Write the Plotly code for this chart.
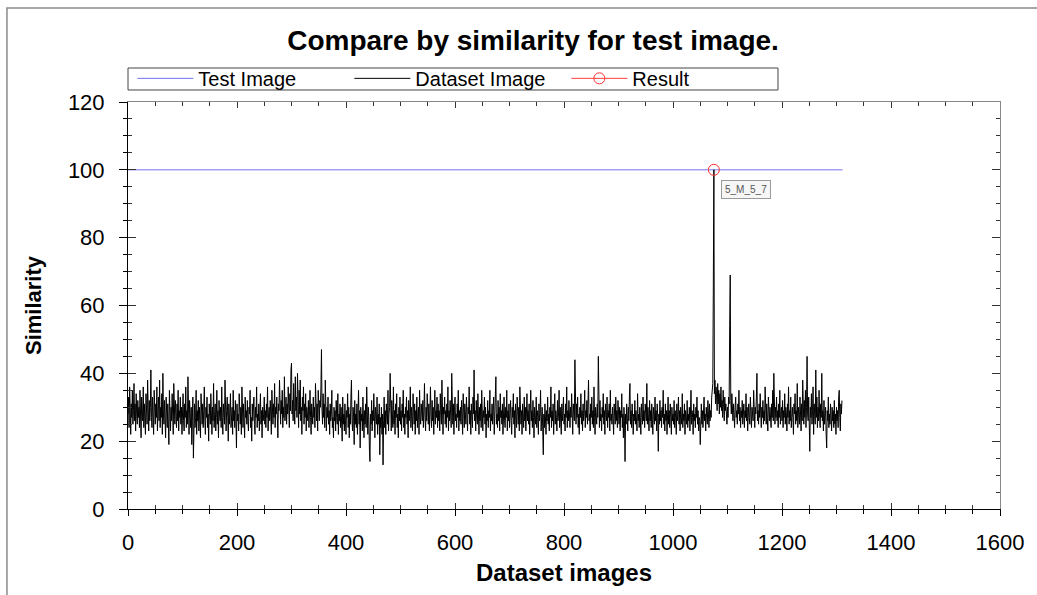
import plotly.graph_objects as go

# ---- data ----
dataset_similarity = [
28,33,24,36,30,22,31,27,35,25, 29,37,26,31,23,34,28,25,32,27, 30,24,35,28,21,33,29,26,36,24, 31,27,22,34,29,25,38,28,23,32, 26,30,41,27,24,33,29,22,35,28,
25,31,27,36,23,29,33,26,38,24, 30,27,34,22,40,28,25,32,26,21, 33,29,24,31,27,19,35,28,23,30, 26,34,29,22,37,27,25,32,28,24, 31,26,35,23,29,27,33,25,30,22,
28,34,26,23,31,27,36,24,29,25, 39,27,22,32,28,24,30,19,26,33, 15,28,31,24,27,35,22,29,26,32, 23,30,27,21,34,28,25,31,24,29, 36,26,22,30,27,33,24,28,20,31,
27,25,34,29,22,30,26,37,24,28, 31,23,27,35,25,29,21,32,28,26, 30,24,36,27,22,31,28,25,38,26, 23,29,33,27,20,31,25,28,34,24, 27,30,22,35,26,29,24,32,27,18,
31,26,28,23,34,27,25,30,22,36, 28,24,31,26,21,33,27,29,25,32, 26,23,30,28,35,24,27,20,31,26, 29,33,25,22,30,27,36,24,28,26, 31,23,27,34,25,29,21,30,26,28,
33,25,29,24,31,27,36,23,28,30, 26,32,28,22,35,29,25,31,27,37, 24,30,28,33,26,21,31,29,38,27, 25,32,28,35,24,30,27,39,26,29, 33,25,31,28,36,27,24,34,29,41,
43,28,32,26,37,30,25,39,29,33, 27,40,31,24,35,28,38,26,30,22, 33,29,36,25,31,27,34,23,30,28, 26,32,24,29,35,27,22,31,28,25, 33,27,30,24,37,29,26,31,23,35,
28,26,32,30,36,47,29,25,34,27, 31,24,38,28,23,30,27,33,25,29, 22,31,26,28,35,24,27,21,30,26, 29,23,32,27,25,34,22,28,26,31, 24,30,27,20,33,25,28,23,31,26,
22,29,27,34,24,30,21,28,25,33, 38,26,23,30,27,19,32,25,28,24, 31,22,27,35,25,29,18,30,26,28, 23,33,27,21,29,25,31,24,36,26, 22,30,27,17,14,28,25,32,23,29,
26,34,24,21,30,27,25,33,22,28, 25,31,16,27,24,30,22,28,13,26, 33,24,29,22,31,27,25,35,23,28, 30,40,26,23,32,27,24,36,25,29, 22,31,27,34,24,28,21,30,26,33,
25,29,23,31,27,35,24,28,22,30, 27,33,25,29,21,32,26,28,36,24, 30,27,23,34,28,25,31,22,29,26, 33,24,28,30,22,35,27,25,31,28, 26,32,24,29,37,27,23,30,26,34,
28,25,31,23,29,36,27,24,32,26, 30,22,28,35,25,29,27,33,24,31, 26,29,23,34,28,25,38,27,22,30, 28,33,25,29,24,31,27,36,23,29, 26,32,28,24,40,27,25,31,22,29,
33,26,28,24,31,27,35,23,29,26, 30,25,32,28,22,34,27,24,31,29, 25,33,27,23,30,28,36,25,29,22, 31,27,24,33,28,41,26,29,23,32, 27,25,34,28,22,30,26,31,24,35,
28,23,29,27,33,25,30,21,28,26, 32,24,29,27,35,23,28,26,31,25, 29,33,22,30,27,39,25,28,24,32, 26,30,23,34,27,29,25,31,22,28, 33,26,24,30,27,35,23,29,26,31,
24,28,32,26,22,30,27,34,25,29, 21,31,27,24,33,28,25,30,23,36, 27,25,29,22,31,28,24,33,26,30, 23,28,34,26,29,25,31,22,27,35, 26,29,24,32,27,21,30,28,25,33,
24,29,27,22,31,26,28,35,23,27, 30,25,16,28,24,31,27,22,29,26, 33,25,28,23,30,27,36,24,29,26, 31,22,28,34,25,29,27,23,32,26, 28,35,24,30,27,22,31,26,29,33,
25,28,23,31,27,36,24,29,26,32, 28,24,30,27,34,25,22,31,28,26, 44,29,25,31,27,33,24,28,22,30, 27,34,25,29,23,31,26,28,35,24, 29,27,32,25,30,38,26,28,23,31,
27,33,25,29,24,36,27,22,30,28, 25,31,27,45,29,24,32,26,28,23, 30,27,34,25,29,22,31,28,26,33, 24,29,27,31,23,35,26,28,25,30, 27,22,31,28,25,33,26,29,24,32,
28,25,30,23,29,27,34,24,28,21, 30,26,14,28,25,31,27,23,30,26, 33,37,25,29,24,31,27,22,28,26, 32,25,29,27,23,34,26,28,24,30, 27,22,31,28,25,33,26,29,24,31,
28,26,37,25,30,27,23,32,26,29, 24,31,27,22,30,28,25,33,26,29, 23,31,27,17,28,25,32,26,29,24, 30,27,35,25,28,23,31,26,29,22, 27,33,25,29,24,31,27,22,30,26,
28,25,32,24,29,27,22,31,26,28, 33,25,29,23,30,27,25,34,24,28, 26,31,22,29,27,25,32,24,28,26, 30,23,28,35,25,29,27,22,31,26, 28,24,30,27,33,25,29,23,27,26,
19,28,31,25,29,24,27,33,26,28, 23,30,27,25,32,28,24,31,26,29, 27,33,35,37,66,100,34,38,31,36, 33,29,37,31,35,28,34,30,36,29, 32,27,35,30,26,33,29,31,28,25,
30,27,33,31,54,69,32,28,34,29, 26,31,28,24,30,33,27,29,25,31, 28,35,26,30,24,29,27,32,25,28, 31,24,29,27,34,26,30,23,28,31, 27,25,33,29,24,30,28,26,35,27,
24,30,28,33,40,26,29,25,31,27, 34,28,24,30,27,32,25,29,26,36, 28,25,31,27,23,33,29,26,30,28, 24,31,27,35,26,40,28,25,30,27, 33,26,29,24,31,27,35,25,28,30,
26,32,24,29,27,34,25,30,28,23, 31,27,36,25,29,26,33,24,28,30, 27,22,31,28,34,25,29,26,37,24, 30,27,25,33,28,23,31,26,38,29, 25,32,27,35,24,30,45,28,26,33,
23,17,30,27,34,25,29,36,22,31, 28,25,41,27,33,24,30,26,35,28, 24,31,27,40,26,29,23,32,25,28, 30,22,18,29,26,33,24,28,25,31, 27,23,30,26,29,24,32,25,28,22,
30,26,29,24,33,35,27,23,31,28, 32,
]
dataset_index = list(range(len(dataset_similarity)))

test_image_index = [0, 1311]
test_image_similarity = [100, 100]

result_index = [1075]
result_similarity = [100]
result_label = ["5_M_5_7"]

series_names = ["Test Image", "Dataset Image", "Result"]

x_range = [0, 1600]
y_range = [0, 120]

FONT = "Liberation Sans, Arial, sans-serif"

fig = go.Figure()
fig.add_trace(go.Scatter(x=test_image_index, y=test_image_similarity, mode="lines",
                         name=series_names[0], line=dict(color="#7373f2", width=1)))
fig.add_trace(go.Scatter(x=dataset_index, y=dataset_similarity, mode="lines",
                         name=series_names[1], line=dict(color="#000000", width=1)))
fig.add_trace(go.Scatter(x=result_index, y=result_similarity, mode="lines+markers",
                         name=series_names[2], line=dict(color="#ff4040", width=1),
                         marker=dict(symbol="circle-open", size=11, color="#ff3030",
                                     line=dict(width=1, color="#ff3030"))))

fig.add_annotation(x=result_index[0], y=result_similarity[0], text=result_label[0],
                   showarrow=False, xshift=32, yshift=-20,
                   font=dict(family=FONT, size=10, color="#555555"),
                   bgcolor="#f6f6f6", bordercolor="#9a9a9a", borderwidth=1, borderpad=3)

tickfont = dict(family=FONT, size=22, color="#000000")

fig.update_layout(
    width=1037, height=595,
    margin=dict(l=128, r=37, t=102, b=86),
    paper_bgcolor="white", plot_bgcolor="white",
    title=dict(text="<b>Compare by similarity for test image.</b>",
               x=0.514, xref="container", xanchor="center",
               y=0.933, yref="container", yanchor="middle",
               font=dict(family=FONT, size=28, color="#000000")),
    showlegend=True,
    legend=dict(orientation="h", x=0.005, xanchor="left", y=1.106, yanchor="top",
                borderwidth=0, bgcolor="rgba(0,0,0,0)",
                font=dict(family=FONT, size=20, color="#000000"),
                itemwidth=56, entrywidth=146, tracegroupgap=0),
    xaxis=dict(range=x_range, showgrid=False, zeroline=False,
               showline=True, linecolor="#888888", linewidth=1, mirror="ticks",
               ticks="inside", ticklen=6, tickcolor="#333333", dtick=200,
               minor=dict(ticks="inside", ticklen=4, dtick=50, tickcolor="#333333"),
               showticklabels=False),
    yaxis=dict(range=y_range, showgrid=False, zeroline=False,
               showline=True, linecolor="#888888", linewidth=1, mirror="ticks",
               ticks="inside", ticklen=8, tickcolor="#333333", dtick=20,
               minor=dict(ticks="inside", ticklen=4, dtick=5, tickcolor="#333333"),
               showticklabels=False),
    xaxis2=dict(range=x_range, overlaying="x", anchor="y2", side="bottom",
                showgrid=False, zeroline=False, showline=True, linecolor="#000000",
                linewidth=1, ticks="outside", ticklen=6, tickcolor="#000000", dtick=200,
                minor=dict(ticks="outside", ticklen=4, dtick=50, tickcolor="#000000"),
                tickfont=tickfont, ticklabelstandoff=8,
                title=dict(text="<b>Dataset images</b>", standoff=9,
                           font=dict(family=FONT, size=24, color="#000000"))),
    yaxis2=dict(range=y_range, overlaying="y", anchor="x2", side="left",
                showgrid=False, zeroline=False, showline=True, linecolor="#000000",
                linewidth=1, ticks="outside", ticklen=8, tickcolor="#000000", dtick=20,
                minor=dict(ticks="outside", ticklen=4, dtick=5, tickcolor="#000000"),
                tickfont=tickfont, ticklabelstandoff=10,
                title=dict(text="<b>Similarity</b>", standoff=20,
                           font=dict(family=FONT, size=22, color="#000000"))),
)

fig.add_trace(go.Scatter(x=[], y=[], xaxis="x2", yaxis="y2", showlegend=False,
                         hoverinfo="skip"))

# outer frame of the chart control
fig.add_shape(type="rect", xref="paper", yref="paper",
              x0=-0.1388, x1=1.046, y0=-0.2236, y1=1.231,
              line=dict(color="#8a8a8a", width=1.5), fillcolor="rgba(0,0,0,0)",
              layer="below")
# legend frame
fig.add_shape(type="rect", xref="paper", yref="paper",
              x0=0, x1=0.7454, y0=1.0295, y1=1.0835,
              line=dict(color="#444444", width=1), fillcolor="white",
              layer="below")

fig.write_html("out.html", config={"displayModeBar": False},
               post_script="document.body.style.margin='0';document.body.style.padding='0';")
